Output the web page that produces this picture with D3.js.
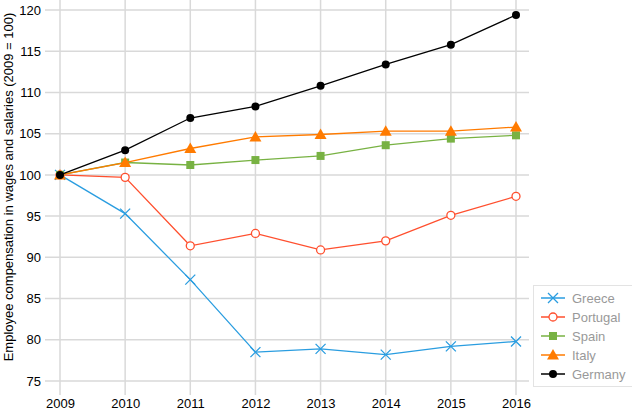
<!DOCTYPE html>
<html><head><meta charset="utf-8">
<script src="https://cdn.jsdelivr.net/npm/d3@7"></script>
<style>body{margin:0;background:#fff}svg{display:block;font-family:"Liberation Sans",Arial,sans-serif}</style>
</head><body><svg id="c" width="632" height="411"></svg>
<script>
const years = [2009,2010,2011,2012,2013,2014,2015,2016];
const yTicks = [75,80,85,90,95,100,105,110,115,120];
const countries = ["Greece","Portugal","Spain","Italy","Germany"];
const greece   = [100,95.3,87.3,78.5,78.9,78.2,79.2,79.8];
const portugal = [100,99.7,91.4,92.9,90.9,92.0,95.1,97.4];
const spain    = [100,101.5,101.2,101.8,102.3,103.6,104.4,104.8];
const italy    = [100,101.5,103.2,104.6,104.9,105.3,105.3,105.8];
const germany  = [100,103.0,106.9,108.3,110.8,113.4,115.8,119.4];
const seriesValues = [greece,portugal,spain,italy,germany];
const colors = ["#2a9de0","#ff4f2e","#78b243","#ff7b00","#000000"];
const symbols = ["x","circle","square","triangle","dot"];

const svg = d3.select("#c");
const x = d3.scalePoint().domain(years).range([60,516]);
const y = d3.scaleLinear().domain([75,120]).range([381,10]);

// grid
svg.append("g").selectAll("line").data(yTicks).join("line")
  .attr("x1",45).attr("x2",529).attr("y1",d=>y(d)).attr("y2",d=>y(d))
  .attr("stroke","#d9d9d9").attr("stroke-width",1.5);
svg.append("g").selectAll("line").data(years).join("line")
  .attr("x1",d=>x(d)).attr("x2",d=>x(d)).attr("y1",0).attr("y2",395)
  .attr("stroke","#d9d9d9").attr("stroke-width",1.5);

// axes
const ya = svg.append("g").attr("transform","translate(44,0)")
  .call(d3.axisLeft(y).tickValues(yTicks).tickSize(0).tickPadding(3));
ya.select(".domain").remove();
ya.selectAll("text").attr("font-size",13).attr("fill","#000").attr("font-family","Liberation Sans, Arial, sans-serif");
const xa = svg.append("g").attr("transform","translate(0,396)")
  .call(d3.axisBottom(x).tickFormat(d3.format("d")).tickSize(0).tickPadding(3));
xa.select(".domain").remove();
xa.selectAll("text").attr("font-size",13).attr("fill","#000").attr("font-family","Liberation Sans, Arial, sans-serif");

svg.append("text").attr("transform","translate(13,187) rotate(-90)")
  .attr("text-anchor","middle").attr("font-size",13).attr("fill","#000")
  .text("Employee compensation in wages and salaries (2009 = 100)");

function drawSym(g, sym, cx, cy, color){
  if(sym==="x"){
    g.append("path").attr("d",`M${cx-5},${cy-5}L${cx+5},${cy+5}M${cx-5},${cy+5}L${cx+5},${cy-5}`)
      .attr("stroke",color).attr("stroke-width",1.3).attr("fill","none");
  } else if(sym==="circle"){
    g.append("circle").attr("cx",cx).attr("cy",cy).attr("r",4).attr("fill","#fff").attr("stroke",color).attr("stroke-width",1.3);
  } else if(sym==="square"){
    g.append("rect").attr("x",cx-4).attr("y",cy-4).attr("width",8).attr("height",8).attr("fill",color);
  } else if(sym==="triangle"){
    g.append("path").attr("d",`M${cx},${cy-6}L${cx+6},${cy+4.5}L${cx-6},${cy+4.5}Z`).attr("fill",color);
  } else {
    g.append("circle").attr("cx",cx).attr("cy",cy).attr("r",4).attr("fill",color);
  }
}

const line = d3.line().x((d,i)=>x(years[i])).y(d=>y(d));
seriesValues.forEach((vals,k)=>{
  const g = svg.append("g");
  g.append("path").datum(vals).attr("d",line).attr("fill","none")
    .attr("stroke",colors[k]).attr("stroke-width",1.3);
  vals.forEach((v,i)=>drawSym(g,symbols[k],x(years[i]),y(v),colors[k]));
});

// legend
const lg = svg.append("g");
lg.append("rect").attr("x",533.5).attr("y",285.5).attr("width",105).attr("height",101)
  .attr("fill","#fff").attr("stroke","#e3e3e3");
countries.forEach((c,k)=>{
  const cy = 298 + k*19;
  lg.append("line").attr("x1",541).attr("x2",565).attr("y1",cy).attr("y2",cy)
    .attr("stroke",colors[k]).attr("stroke-width",1.5);
  drawSym(lg,symbols[k],553,cy,colors[k]);
  lg.append("text").attr("x",572).attr("y",cy+4.5).attr("font-size",13).attr("fill","#999").text(c);
});
</script></body></html>
